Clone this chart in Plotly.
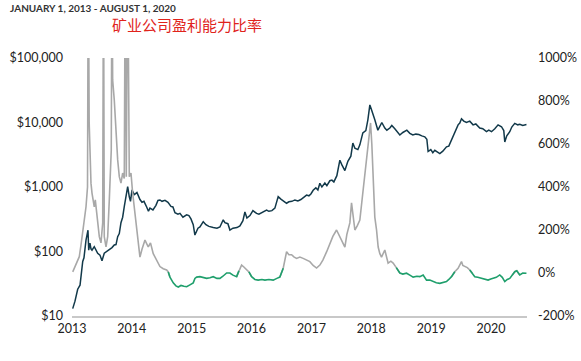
import plotly.graph_objects as go

# ---- data (decimal years) ----
price_year = [2013.012, 2013.05, 2013.095, 2013.134, 2013.179, 2013.2, 2013.234, 2013.267, 2013.279, 2013.3,
              2013.317, 2013.334, 2013.372, 2013.401, 2013.429, 2013.467, 2013.501, 2013.539, 2013.584, 2013.623,
              2013.668, 2013.706, 2013.735, 2013.763, 2013.79, 2013.818, 2013.846, 2013.873, 2013.902, 2013.93,
              2013.957, 2013.977, 2014.002, 2014.04, 2014.085, 2014.135, 2014.169, 2014.202, 2014.247, 2014.277,
              2014.302, 2014.352, 2014.402, 2014.436, 2014.469, 2014.503, 2014.553, 2014.603, 2014.653, 2014.686,
              2014.72, 2014.77, 2014.803, 2014.853, 2014.915, 2014.953, 2014.987, 2015.025, 2015.053, 2015.078,
              2015.104, 2015.137, 2015.192, 2015.237, 2015.287, 2015.359, 2015.421, 2015.471, 2015.526, 2015.554,
              2015.604, 2015.638, 2015.688, 2015.755, 2015.805, 2015.855, 2015.888, 2015.922, 2015.972, 2016.022,
              2016.083, 2016.122, 2016.172, 2016.205, 2016.25, 2016.289, 2016.339, 2016.389, 2016.444, 2016.489,
              2016.523, 2016.584, 2016.623, 2016.673, 2016.723, 2016.773, 2016.823, 2016.873, 2016.918, 2016.957,
              2016.99, 2017.028, 2017.073, 2017.107, 2017.14, 2017.174, 2017.224, 2017.257, 2017.307, 2017.341,
              2017.374, 2017.424, 2017.474, 2017.508, 2017.558, 2017.608, 2017.658, 2017.691, 2017.725, 2017.775,
              2017.808, 2017.858, 2017.908, 2017.942, 2017.975, 2018.0, 2018.025, 2018.058, 2018.109, 2018.142,
              2018.175, 2018.225, 2018.259, 2018.309, 2018.342, 2018.392, 2018.426, 2018.476, 2018.526, 2018.593,
              2018.643, 2018.693, 2018.743, 2018.793, 2018.843, 2018.893, 2018.927, 2018.948, 2018.993, 2019.027,
              2019.06, 2019.11, 2019.144, 2019.194, 2019.255, 2019.294, 2019.339, 2019.394, 2019.449, 2019.477,
              2019.506, 2019.544, 2019.589, 2019.644, 2019.699, 2019.745, 2019.811, 2019.861, 2019.923, 2019.962,
              2020.007, 2020.062, 2020.117, 2020.174, 2020.212, 2020.229, 2020.262, 2020.312, 2020.346, 2020.396,
              2020.446, 2020.479, 2020.529, 2020.591]
price_usd = [13, 17, 26, 30, 70, 80, 150, 214, 105, 135,
             110, 105, 119, 108, 94, 88, 72, 94, 100, 105,
             115, 126, 128, 170, 190, 280, 340, 495, 700, 1010,
             705, 600, 900, 760, 820, 640, 580, 600, 490, 420,
             470, 440, 520, 620, 630, 600, 620, 580, 500, 490,
             400, 380, 390, 340, 370, 360, 320, 260, 180, 210,
             230, 240, 290, 260, 245, 235, 230, 240, 310, 280,
             270, 215, 230, 235, 250, 300, 410, 330, 360, 430,
             390, 380, 400, 420, 440, 420, 430, 470, 710, 650,
             620, 560, 590, 600, 630, 610, 640, 700, 750, 730,
             780, 890, 970, 900, 1140, 1000, 1150, 1050, 1250, 1280,
             1200, 1500, 2600, 2200, 1800, 2500, 3000, 4800, 4000, 3800,
             4500, 6900, 7500, 11000, 18700, 16000, 14000, 11000, 7600, 9000,
             10000, 8200, 7600, 8200, 9000, 8000, 7200, 6400, 7000, 7600,
             6800, 6400, 6600, 6500, 6200, 6000, 5500, 3550, 3800, 3400,
             3700, 3500, 3300, 3600, 4200, 4300, 5300, 7200, 9200, 9800,
             11400, 10500, 10000, 10500, 9200, 9500, 8200, 8000, 7200, 7600,
             7200, 8000, 9200, 8600, 7500, 5000, 6200, 7200, 8500, 9700,
             9200, 9400, 9000, 9300]

ratio_year = [2013.012, 2013.05, 2013.095, 2013.122, 2013.15, 2013.179, 2013.209, 2013.234, 2013.259, 2013.272,
              2013.287, 2013.301, 2013.317, 2013.334, 2013.356, 2013.372, 2013.389, 2013.409, 2013.429, 2013.456,
              2013.484, 2013.513, 2013.526, 2013.539, 2013.568, 2013.596, 2013.623, 2013.656, 2013.668, 2013.679,
              2013.706, 2013.735, 2013.763, 2013.79, 2013.818, 2013.846, 2013.873, 2013.89, 2013.907, 2013.93,
              2013.957, 2013.985, 2014.013, 2014.04, 2014.068, 2014.102, 2014.135, 2014.169, 2014.219, 2014.274,
              2014.311, 2014.357, 2014.414, 2014.469, 2014.524, 2014.581, 2014.608, 2014.636, 2014.691, 2014.736,
              2014.775, 2014.82, 2014.87, 2014.915, 2014.97, 2015.025, 2015.053, 2015.082, 2015.137, 2015.192,
              2015.249, 2015.304, 2015.359, 2015.421, 2015.471, 2015.521, 2015.583, 2015.638, 2015.688, 2015.75,
              2015.788, 2015.833, 2015.871, 2015.916, 2015.955, 2016.0, 2016.055, 2016.11, 2016.172, 2016.222,
              2016.289, 2016.361, 2016.422, 2016.472, 2016.528, 2016.584, 2016.623, 2016.668, 2016.706, 2016.751,
              2016.806, 2016.861, 2016.918, 2016.973, 2017.028, 2017.085, 2017.14, 2017.19, 2017.252, 2017.307,
              2017.357, 2017.419, 2017.457, 2017.503, 2017.529, 2017.558, 2017.591, 2017.641, 2017.669, 2017.696,
              2017.725, 2017.766, 2017.808, 2017.863, 2017.92, 2017.95, 2017.987, 2018.008, 2018.03, 2018.058,
              2018.087, 2018.114, 2018.142, 2018.17, 2018.225, 2018.28, 2018.326, 2018.364, 2018.417, 2018.476,
              2018.526, 2018.588, 2018.643, 2018.698, 2018.76, 2018.81, 2018.865, 2018.922, 2018.977, 2019.032,
              2019.085, 2019.144, 2019.194, 2019.255, 2019.294, 2019.339, 2019.394, 2019.449, 2019.506, 2019.528,
              2019.561, 2019.603, 2019.644, 2019.686, 2019.728, 2019.778, 2019.84, 2019.895, 2019.95, 2019.995,
              2020.033, 2020.087, 2020.145, 2020.187, 2020.229, 2020.27, 2020.312, 2020.354, 2020.396, 2020.429,
              2020.479, 2020.529, 2020.591]
ratio_pct = [5, 30, 60, 76, 130, 200, 260, 308, 400, 1500,
             700, 558, 418, 372, 330, 308, 340, 290, 262, 169,
             140, 233, 1500, 169, 122, 169, 340, 572, 1500, 898,
             805, 651, 526, 448, 418, 465, 440, 1500, 448, 1500,
             448, 465, 372, 308, 250, 150, 74, 110, 153, 121,
             140, 90, 60, 30, 20, 14, 5, -19, -46, -60,
             -65, -58, -62, -64, -55, -46, -25, -19, -17, -20,
             -25, -22, -17, -25, -25, -15, 0, 0, -10, -17,
             10, 37, 28, 14, 5, -17, -30, -33, -30, -33,
             -30, -33, -25, -19, 22, 99, 85, 85, 75, 68,
             74, 68, 60, 53, 35, 23, 37, 60, 98, 140,
             170, 200, 180, 153, 140, 120, 180, 233, 326, 260,
             200, 220, 246, 386, 526, 600, 698, 600, 432, 260,
             200, 121, 90, 74, 107, 46, 55, 46, 25, 0,
             -5, -1, -10, -19, -15, -17, -9, -33, -33, -40,
             -45, -48, -44, -40, -30, -17, 6, 22, 53, 35,
             30, 25, 14, 0, -17, -20, -25, -27, -33, -28,
             -25, -20, -9, -20, -40, -30, -25, -10, 6, 10,
             -9, 0, -1]

price_ticks = [10, 100, 1000, 10000, 100000]
price_tick_labels = ["$10", "$100", "$1,000", "$10,000", "$100,000"]
pct_ticks = [-200, 0, 200, 400, 600, 800, 1000]
year_ticks = [2013, 2014, 2015, 2016, 2017, 2018, 2019, 2020]

title_text = "矿业公司盈利能力比率"
subtitle_text = "JANUARY 1, 2013 - AUGUST 1, 2020"

# split ratio into grey (high) and green (low) segments
THR = 3
n = len(ratio_pct)
hi = [v > THR for v in ratio_pct]
grey_y, green_y = [], []
for i, v in enumerate(ratio_pct):
    near_hi = hi[i] or (i > 0 and hi[i - 1]) or (i < n - 1 and hi[i + 1])
    near_lo = (not hi[i]) or (i > 0 and not hi[i - 1]) or (i < n - 1 and not hi[i + 1])
    grey_y.append(v if near_hi else None)
    green_y.append(v if near_lo else None)

NAVY = "#12394a"
GREY = "#a8a8a8"
GREEN = "#1f9f6c"

fig = go.Figure()
fig.add_trace(go.Scatter(x=ratio_year, y=grey_y, yaxis="y2", mode="lines",
                         line=dict(color=GREY, width=1.6), connectgaps=False, showlegend=False))
fig.add_trace(go.Scatter(x=ratio_year, y=green_y, yaxis="y2", mode="lines",
                         line=dict(color=GREEN, width=1.6), connectgaps=False, showlegend=False))
fig.add_trace(go.Scatter(x=price_year, y=price_usd, mode="lines",
                         line=dict(color=NAVY, width=1.5), showlegend=False))

tick_font = dict(family="Lato, 'Open Sans', sans-serif", size=12.5, color="#222")

fig.update_layout(
    width=581, height=361,
    margin=dict(l=72, r=54, t=58, b=45, autoexpand=False),
    paper_bgcolor="white", plot_bgcolor="white",
    xaxis=dict(range=[2013, 2020.6], tickvals=year_ticks, ticktext=[str(y) for y in year_ticks],
               showgrid=False, zeroline=False, showline=True, linecolor="#c8c8c8", linewidth=2,
               ticks="", tickfont=tick_font, automargin=False),
    yaxis=dict(type="log", range=[1, 5], tickvals=price_ticks, ticktext=price_tick_labels,
               showgrid=False, zeroline=False, showline=False, ticks="", tickfont=tick_font,
               ticklabelstandoff=8, automargin=False),
    yaxis2=dict(overlaying="y", side="right", range=[-200, 1000], tickvals=pct_ticks,
                ticktext=[f"{v}%" for v in pct_ticks], showgrid=False, zeroline=False,
                showline=False, ticks="", tickfont=tick_font, ticklabelstandoff=10,
                automargin=False),
    annotations=[
        dict(text=f"<b>{subtitle_text}</b>", xref="paper", yref="paper", x=-0.141, y=1.226,
             xanchor="left", yanchor="top", showarrow=False,
             font=dict(family="Lato, sans-serif", size=10, color="#333")),
        dict(text=title_text, xref="paper", yref="paper", x=0.253, y=1.131,
             xanchor="center", yanchor="middle", showarrow=False,
             font=dict(family="Noto Sans CJK SC", size=15, color="#e0231b")),
    ],
)

fig.write_html("out.html", config={"displayModeBar": False},
               post_script="document.body.style.margin='0';document.body.style.overflow='hidden';")
